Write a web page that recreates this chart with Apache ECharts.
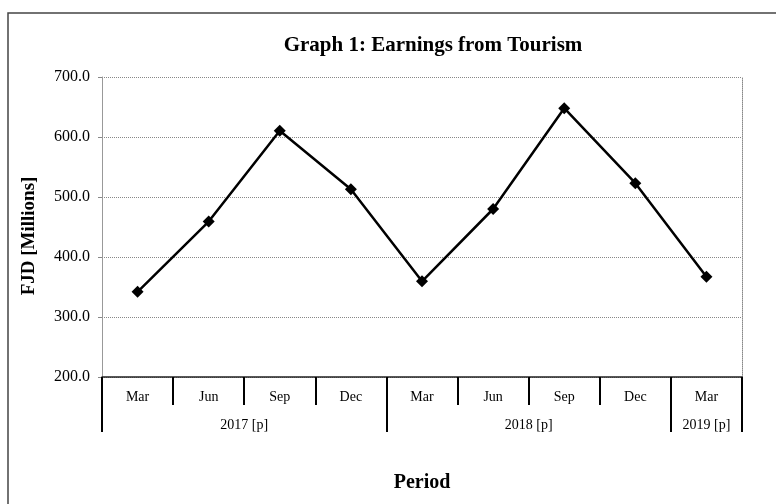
<!DOCTYPE html>
<html>
<head>
<meta charset="utf-8">
<script src="https://cdn.jsdelivr.net/npm/echarts@6/dist/echarts.min.js"></script>
<style>
  html, body { margin: 0; padding: 0; background: #fff; }
  #chart { width: 776px; height: 504px; }
</style>
</head>
<body>
<div id="chart"></div>
<script>
// quarters and earnings (FJD millions)
var months = ['Mar', 'Jun', 'Sep', 'Dec', 'Mar', 'Jun', 'Sep', 'Dec', 'Mar'];
var earnings = [342, 459, 610.5, 513, 359.5, 480, 648, 523, 367];
// years and how many quarters each one spans
var years = ['2017 [p]', '2018 [p]', '2019 [p]'];
var yearSpans = [4, 4, 1];
var yTicks = [200, 300, 400, 500, 600, 700];

var FONT = 'Liberation Serif, Times New Roman, serif';

// year group edges and centres on the quarter scale
var yearEdges = [0], yearCentres = [];
yearSpans.forEach(function (n, i) {
  var start = yearEdges[i];
  yearEdges.push(start + n);
  yearCentres.push(start + n / 2);
});

var chart = echarts.init(document.getElementById('chart'));

var option = {
  backgroundColor: '#fff',
  animation: false,
  title: {
    text: 'Graph 1: Earnings from Tourism',
    left: 428,
    top: 30,
    textAlign: 'center',
    textStyle: { fontFamily: FONT, fontSize: 21, fontWeight: 'bold', color: '#000' }
  },
  graphic: [{
    // outer frame (only left and top edges fall inside the picture)
    type: 'rect',
    shape: { x: 8, y: 13, width: 900, height: 700 },
    style: { fill: 'none', stroke: '#444', lineWidth: 1.5 },
    silent: true
  }],
  grid: { left: 102, right: 34, top: 77, bottom: 127 },
  xAxis: [{
    type: 'category',
    data: months,
    boundaryGap: true,
    name: 'Period',
    nameLocation: 'middle',
    nameGap: 96,
    nameTextStyle: { fontFamily: FONT, fontSize: 20, fontWeight: 'bold', color: '#000' },
    axisLine: { show: true, lineStyle: { color: '#222', width: 1.5 } },
    axisTick: { show: true, length: 28, lineStyle: { color: '#000', width: 2 } },
    axisLabel: { fontFamily: FONT, fontSize: 14, color: '#000', margin: 13 }
  }, {
    type: 'value',
    position: 'bottom',
    min: 0,
    max: months.length,
    axisLine: { show: false },
    splitLine: { show: false },
    axisTick: {
      show: true, length: 55, customValues: yearEdges,
      lineStyle: { color: '#000', width: 2 }
    },
    axisLabel: {
      fontFamily: FONT, fontSize: 14, color: '#000', margin: 41,
      customValues: yearCentres,
      formatter: function (v) {
        var i = yearCentres.indexOf(v);
        return i >= 0 ? years[i] : '';
      }
    }
  }],
  yAxis: [{
    type: 'value',
    min: yTicks[0],
    max: yTicks[yTicks.length - 1],
    interval: 100,
    name: 'FJD [Millions]',
    nameLocation: 'middle',
    nameRotate: 90,
    nameGap: 63,
    nameTextStyle: {
      fontFamily: FONT, fontSize: 19, fontWeight: 'bold', color: '#000',
      padding: [0, 18, 0, 0]
    },
    axisLine: { show: true, lineStyle: { color: '#999', width: 1 } },
    axisTick: { show: true, length: 4, lineStyle: { color: '#888' } },
    axisLabel: {
      fontFamily: FONT, fontSize: 16, color: '#000', margin: 12,
      formatter: function (v) { return v.toFixed(1); }
    },
    splitLine: { show: true, lineStyle: { color: '#888', type: 'dotted', width: 1 } }
  }, {
    type: 'value',
    position: 'right',
    min: yTicks[0],
    max: yTicks[yTicks.length - 1],
    interval: 100,
    axisLine: { show: true, lineStyle: { color: '#888', type: 'dotted', width: 1 } },
    axisTick: { show: false },
    axisLabel: { show: false },
    splitLine: { show: false }
  }],
  series: [{
    type: 'line',
    data: earnings,
    symbol: 'diamond',
    symbolSize: 12,
    lineStyle: { color: '#000', width: 2.5 },
    itemStyle: { color: '#000' }
  }]
};

chart.setOption(option);
</script>
</body>
</html>
